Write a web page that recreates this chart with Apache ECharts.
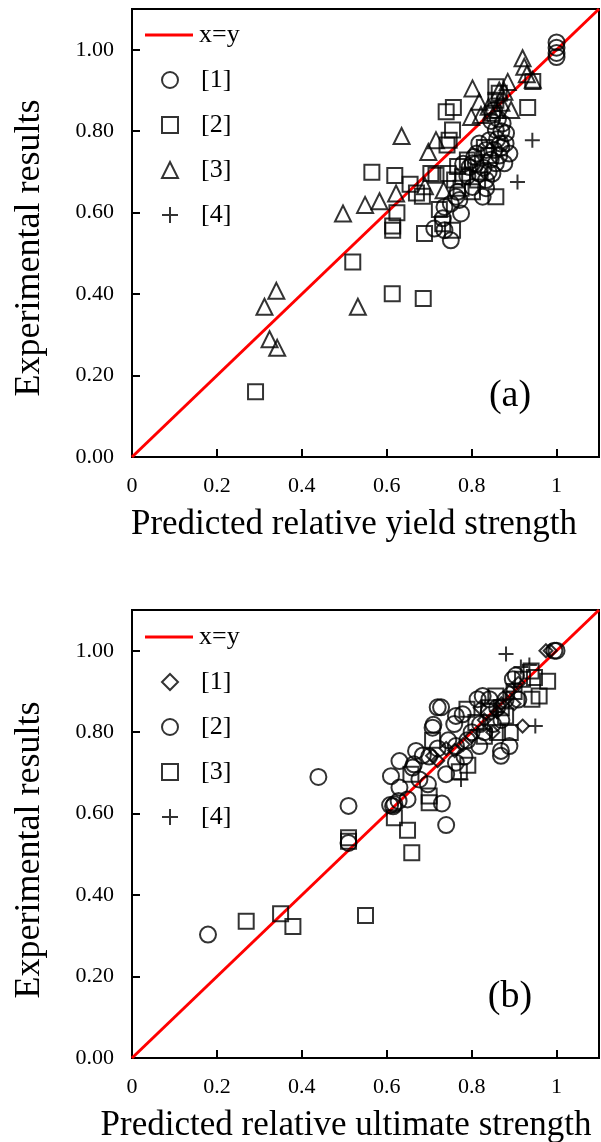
<!DOCTYPE html>
<html><head><meta charset="utf-8">
<script src="https://cdn.jsdelivr.net/npm/echarts@6/dist/echarts.min.js"></script>
<style>
html,body{margin:0;padding:0;background:#fff;width:601px;height:1142px;overflow:hidden}
#a{position:absolute;left:0;top:0;width:601px;height:571px}
#b{position:absolute;left:0;top:571px;width:601px;height:571px}
</style>
</head><body><div id="a"></div><div id="b"></div>
<script>
// ---------- data: (a) relative yield strength ----------
const diagLine = [[0, 0], [1.1, 1.1]];
const yieldRef1 = [[1.0,1.018],[1.0,1.005],[1.0,0.992],[1.0,0.982],
 [0.712,0.561],[0.736,0.557],[0.751,0.532],[0.732,0.586],[0.751,0.622],[0.771,0.631],[0.775,0.598],[0.736,0.614],
 [0.767,0.651],[0.763,0.639],[0.802,0.721],[0.806,0.737],[0.826,0.639],[0.810,0.720],[0.834,0.754],[0.842,0.778],
 [0.857,0.803],[0.873,0.819],[0.881,0.795],[0.889,0.745],[0.877,0.721],[0.849,0.696],[0.834,0.680],[0.818,0.696],
 [0.802,0.663],[0.795,0.712],[0.818,0.770],[0.853,0.754],[0.868,0.770],[0.846,0.825],[0.853,0.852],[0.857,0.721],
 [0.834,0.660],[0.860,0.780],[0.865,0.740],[0.845,0.730],[0.828,0.710],[0.870,0.760],[0.880,0.770],[0.862,0.830],
 [0.870,0.800],[0.840,0.700],[0.812,0.745],[0.790,0.690],[0.780,0.720]];
const yieldRef2 = [[0.291,0.160],[0.520,0.479],[0.613,0.401],[0.686,0.389],[0.565,0.699],[0.619,0.691],[0.614,0.567],
 [0.614,0.557],[0.624,0.600],[0.655,0.670],[0.670,0.648],[0.684,0.640],[0.689,0.549],[0.704,0.696],[0.716,0.692],
 [0.724,0.608],[0.740,0.848],[0.757,0.858],[0.755,0.803],[0.742,0.766],[0.747,0.778],[0.744,0.696],[0.732,0.573],
 [0.755,0.557],[0.767,0.713],[0.779,0.688],[0.790,0.729],[0.802,0.651],[0.814,0.680],[0.857,0.639],[0.932,0.858],
 [0.857,0.909],[0.865,0.893],[0.857,0.876],[0.944,0.922],[0.849,0.844],[0.830,0.760],[0.840,0.740],[0.820,0.700],
 [0.760,0.680],[0.775,0.660]];
const yieldRef3 = [[0.312,0.369],[0.340,0.408],[0.324,0.289],[0.342,0.268],[0.532,0.369],[0.497,0.598],[0.549,0.619],
 [0.583,0.628],[0.635,0.788],[0.622,0.647],[0.690,0.665],[0.698,0.749],[0.716,0.778],[0.734,0.655],[0.802,0.905],
 [0.818,0.872],[0.799,0.835],[0.822,0.840],[0.865,0.900],[0.857,0.852],[0.885,0.921],[0.893,0.852],[0.920,0.979],
 [0.924,0.958],[0.944,0.926],[0.877,0.897],[0.840,0.860],[0.870,0.870],[0.930,0.940]];
const yieldRef4 = [[0.943,0.778],[0.908,0.675],[0.860,0.870]];

// ---------- data: (b) relative ultimate strength ----------
const ultRef1 = [[0.975,1.0],[0.985,1.0],[0.920,0.815],[0.708,0.742],[0.760,0.755],[0.800,0.790],[0.830,0.830],
 [0.850,0.800],[0.870,0.870],[0.890,0.900],[0.910,0.920],[0.780,0.770],[0.820,0.860],[0.740,0.760],[0.860,0.850],
 [0.900,0.870],[0.720,0.730]];
const ultRef2 = [[0.179,0.303],[0.439,0.690],[0.510,0.619],[0.510,0.528],[0.610,0.692],[0.630,0.729],[0.630,0.664],
 [0.608,0.621],[0.618,0.623],[0.628,0.631],[0.649,0.635],[0.661,0.713],[0.664,0.721],[0.677,0.684],[0.669,0.754],
 [0.697,0.672],[0.708,0.811],[0.710,0.818],[0.720,0.861],[0.728,0.861],[0.730,0.625],[0.740,0.572],[0.740,0.697],
 [0.759,0.820],[0.763,0.840],[0.779,0.844],[0.763,0.766],[0.763,0.725],[0.783,0.740],[0.814,0.881],[0.826,0.889],
 [0.842,0.881],[0.869,0.742],[0.889,0.766],[0.869,0.754],[0.818,0.766],[0.897,0.930],[0.904,0.939],[0.685,0.743],
 [0.615,0.618],[0.800,0.800],[0.820,0.820],[0.840,0.850],[0.860,0.860],[0.790,0.780],[0.850,0.820],[0.880,0.880],
 [0.870,0.830],[0.720,0.760],[0.745,0.780],[0.700,0.740],[0.910,0.880],[0.830,0.800],[0.995,1.0],[1.0,1.0]];
const ultRef3 = [[0.269,0.336],[0.350,0.354],[0.379,0.323],[0.550,0.350],[0.510,0.541],[0.510,0.532],[0.618,0.590],
 [0.649,0.559],[0.659,0.504],[0.700,0.643],[0.700,0.627],[0.657,0.697],[0.708,0.780],[0.771,0.703],[0.791,0.719],
 [0.789,0.856],[0.857,0.889],[0.861,0.799],[0.891,0.799],[0.942,0.881],[0.959,0.889],[0.979,0.925],[0.948,0.934],
 [0.810,0.824],[0.840,0.860],[0.880,0.840],[0.900,0.900],[0.830,0.790],[0.920,0.930],[0.870,0.860],[0.940,0.950]];
const ultRef4 = [[0.881,0.992],[0.916,0.960],[0.936,0.965],[0.950,0.815],[0.775,0.684],[0.880,0.880],[0.900,0.900],[0.860,0.850]];

const lineName = 'x=y';
const refNames = ['[1]', '[2]', '[3]', '[4]'];
const xAxisTitleA = 'Predicted relative yield strength';
const xAxisTitleB = 'Predicted relative ultimate strength';
const yAxisTitle = 'Experimental results';

// ---------- drawing ----------
const FONT = 'Liberation Serif';
const PLUS = 'path://M0,5L10,5M5,0L5,10';

function sc(name, data, symbol, size) {
  return { type: 'scatter', name, data, symbol, symbolSize: size, z: 3, silent: true,
    itemStyle: { color: 'transparent', borderColor: '#000', borderWidth: 2 },
    emphasis: { disabled: true } };
}
function build(el, gridTop, legendTop, series, xTitle, xTitleX, xTitleY, yTitleY, panel, panelY) {
  const chart = echarts.init(document.getElementById(el), null, { renderer: 'canvas' });
  const axisCommon = {
    type: 'value', min: 0, max: 1.1, interval: 0.2,
    axisLine: { show: true, lineStyle: { color: '#000', width: 2 } },
    axisTick: { show: true, inside: true, length: 8, lineStyle: { color: '#000', width: 2 } },
    splitLine: { show: false }
  };
  const legText = { fontFamily: FONT, fontSize: 26, color: '#000' };
  chart.setOption({
    animation: false,
    grid: { left: 132, top: gridTop, width: 467, height: 448, show: true, borderColor: '#000', borderWidth: 2, backgroundColor: 'transparent' },
    xAxis: Object.assign({}, axisCommon, {
      axisLabel: { showMaxLabel: false, margin: 18, fontFamily: FONT, fontSize: 22, color: '#000',
        formatter: v => v > 1.05 ? '' : (v === 0 ? '0' : (Math.abs(v - 1) < 1e-9 ? '1' : v.toFixed(1))) }
    }),
    yAxis: Object.assign({}, axisCommon, {
      axisLabel: { showMaxLabel: false, margin: 18, fontFamily: FONT, fontSize: 22, color: '#000',
        formatter: v => v > 1.05 ? '' : v.toFixed(2) }
    }),
    legend: [
      { orient: 'vertical', left: 145, top: legendTop, padding: 0, itemWidth: 48, itemHeight: 3,
        selectedMode: false, data: [{ name: lineName, icon: 'rect' }],
        textStyle: Object.assign({ padding: [0, 0, 0, 1] }, legText) },
      { orient: 'vertical', left: 161, top: legendTop + 45, padding: 0, itemWidth: 16, itemHeight: 16, itemGap: 19,
        selectedMode: false, data: refNames,
        textStyle: Object.assign({ padding: [0, 0, 0, 18] }, legText) }
    ],
    graphic: [
      { type: 'text', x: xTitleX, y: xTitleY, style: { text: xTitle, fontFamily: FONT, fontSize: 35, fill: '#000', align: 'center', verticalAlign: 'middle' } },
      { type: 'text', x: 30, y: yTitleY, rotation: Math.PI / 2, style: { text: yAxisTitle, fontFamily: FONT, fontSize: 36, fill: '#000', align: 'center', verticalAlign: 'middle' } },
      { type: 'text', x: 510, y: panelY, style: { text: panel, fontFamily: FONT, fontSize: 38, fill: '#000', align: 'center', verticalAlign: 'middle' } }
    ],
    series: series
  });
}
function lineSeries() {
  return { type: 'line', name: lineName, data: diagLine, symbol: 'none', z: 2, silent: true,
    lineStyle: { color: '#ff0000', width: 3 }, itemStyle: { color: '#ff0000' } };
}

build('a', 9, 22, [
  lineSeries(),
  sc('[1]', yieldRef1, 'circle', 16),
  sc('[2]', yieldRef2, 'rect', 15),
  sc('[3]', yieldRef3, 'triangle', 16),
  sc('[4]', yieldRef4, PLUS, 15)
], xAxisTitleA, 354, 525, 248, '(a)', 396);

build('b', 39, 53, [
  lineSeries(),
  sc('[1]', ultRef1, 'diamond', 13),
  sc('[2]', ultRef2, 'circle', 16),
  sc('[3]', ultRef3, 'rect', 15),
  sc('[4]', ultRef4, PLUS, 15)
], xAxisTitleB, 346, 1126 - 571, 850 - 571, '(b)', 997 - 571);
</script></body></html>
